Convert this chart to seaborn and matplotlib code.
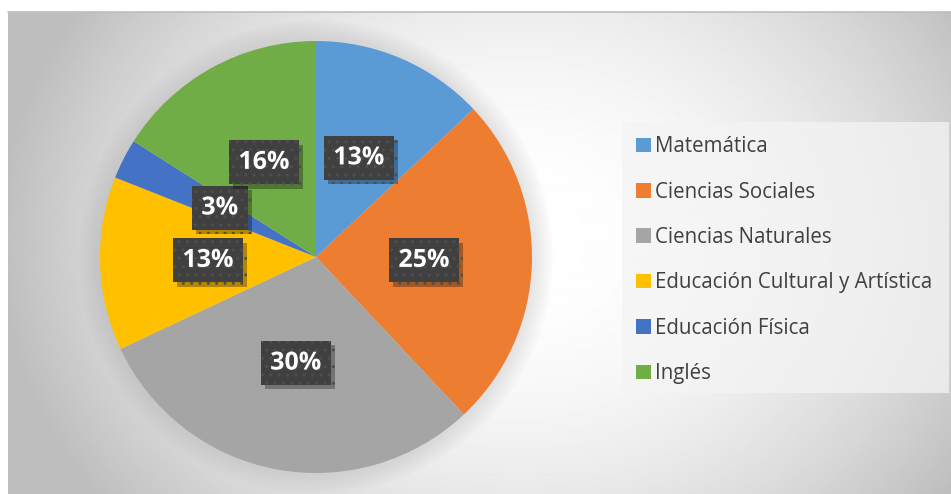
import numpy as np
import matplotlib
matplotlib.use("Agg")
import matplotlib.pyplot as plt
import matplotlib.patheffects as pe
from matplotlib.patches import Patch, Rectangle, Circle
import seaborn as sns

sns.set_style("white")
plt.rcParams["font.family"] = ["Open Sans", "DejaVu Sans"]

# data
materias = ["Matemática", "Ciencias Sociales", "Ciencias Naturales",
            "Educación Cultural y Artística", "Educación Física", "Inglés"]
porcentajes = [13, 25, 30, 13, 3, 16]
colores = ["#5b9bd5", "#ed7d31", "#a5a5a5", "#ffc000", "#4472c4", "#70ad47"]

W, H = 951, 494
fig = plt.figure(figsize=(W / 100, H / 100), dpi=100)
fig.patch.set_facecolor("white")

# gradient background of the chart area
bg = fig.add_axes([8 / W, 0, (W - 8) / W, (H - 12) / H])
xx, yy = np.meshgrid(np.arange(8, W), np.arange(12, H))
d2 = ((xx - 520) / 480.0) ** 2 + ((yy - 240) / 400.0) ** 2
val = np.clip(255 - 55 * d2, 190, 255) / 255.0
bg.imshow(val, cmap="gray", vmin=0, vmax=1, aspect="auto",
          interpolation="bilinear")
bg.set_axis_off()
fig.add_artist(plt.Line2D([8 / W, 1], [1 - 12 / H] * 2, color="#bdbdbd", lw=1.2))

# pie
cx, cy, r = 316, 257, 216
ax = fig.add_axes([(cx - r) / W, (H - cy - r) / H, 2 * r / W, 2 * r / H])
ax.set_axis_off()
for k in range(8):
    ax.add_patch(Circle((0, 0), 1.0 + 0.012 * (k + 1), color="#9a9a9a",
                        alpha=0.03, lw=0, zorder=0, clip_on=False))

wedges, _, autotexts = ax.pie(
    porcentajes, colors=sns.color_palette(colores), startangle=90,
    counterclock=False, autopct="%1.0f%%", pctdistance=0.5,
    wedgeprops=dict(linewidth=0),
    textprops=dict(color="white", fontsize=18, fontweight="bold"))
ax.set_xlim(-1, 1)
ax.set_ylim(-1, 1)
ax.set_aspect("equal")

for t in autotexts:
    t.set_bbox(dict(boxstyle="square,pad=0.38", fc="#404040", ec="#4e4e4e",
                    lw=0, hatch=".."))
    t.get_bbox_patch().set_path_effects(
        [pe.SimplePatchShadow(offset=(3, -3), shadow_rgbFace="black", alpha=0.3),
         pe.Normal()])
    t.set_path_effects([pe.withSimplePatchShadow(offset=(1, -1), alpha=0.4)])

# legend
fig.add_artist(Rectangle((622 / W, 1 - 393 / H), (949 - 622) / W, (393 - 122) / H,
                         transform=fig.transFigure, fc="#f4f4f4", ec="none",
                         alpha=0.75))
handles = [Patch(facecolor=c, edgecolor="none", label=m)
           for c, m in zip(colores, materias)]
leg = fig.legend(handles=handles, loc="upper left",
                 bbox_to_anchor=(628 / W, 1 - 128 / H), frameon=False,
                 fontsize=14.8, labelspacing=1.185, handlelength=0.72,
                 handleheight=0.72, handletextpad=0.2, borderaxespad=0)
for t in leg.get_texts():
    t.set_color("#404040")

fig.savefig("out.png", dpi=100)
